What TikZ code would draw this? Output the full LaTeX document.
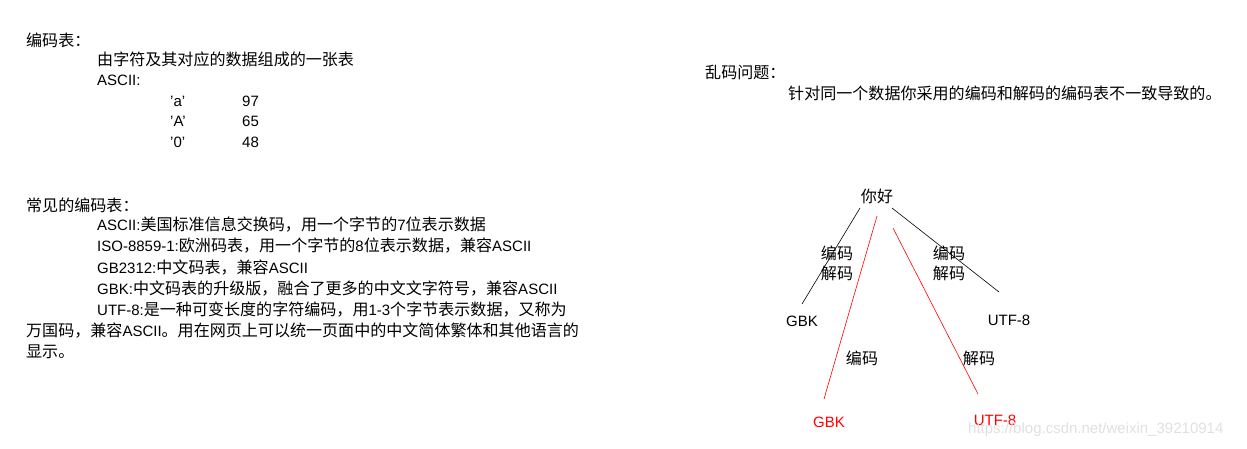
\documentclass[tikz,border=0pt]{standalone}
\usepackage{fontspec}
\setmainfont{Liberation Sans}
\newfontfamily\cjkf{Noto Sans CJK SC}[Scale=1.07]
\newcommand{\zh}[1]{{\cjkf #1}}
\begin{document}
\begin{tikzpicture}[x=1pt,y=-1pt,
  t/.style={anchor=west,inner sep=0pt,font=\fontsize{15}{16}\selectfont},
  c/.style={inner sep=0pt,font=\fontsize{15}{16}\selectfont},
  redc/.style={c,text=red},
  link/.style={black,line width=0.6pt},
  rlink/.style={red,line width=0.6pt}]
\useasboundingbox (0,0) rectangle (1247,448);
\node[t] (h1) at (26,40) {\zh{编码表：}};
\node[t] (l1) at (97,59) {\zh{由字符及其对应的数据组成的一张表}};
\node[t] (l2) at (97,80) {ASCII:};
\node[t] (a1) at (170,101) {'a'}; \node[t] (a2) at (242,101) {97};
\node[t] (b1) at (170,121) {'A'}; \node[t] (b2) at (242,121) {65};
\node[t] (c1) at (170,142) {'0'}; \node[t] (c2) at (242,142) {48};
\node[t] (h2) at (26,205) {\zh{常见的编码表：}};
\node[t] (m1) at (97,225) {ASCII:\zh{美国标准信息交换码，用一个字节的}7\zh{位表示数据}};
\node[t] (m2) at (97,246) {ISO-8859-1:\zh{欧洲码表，用一个字节的}8\zh{位表示数据，兼容}ASCII};
\node[t] (m3) at (97,268) {GB2312:\zh{中文码表，兼容}ASCII};
\node[t] (m4) at (97,289) {GBK:\zh{中文码表的升级版，融合了更多的中文文字符号，兼容}ASCII};
\node[t] (m5) at (97,310) {UTF-8:\zh{是一种可变长度的字符编码，用}1-3\zh{个字节表示数据，又称为}};
\node[t] (m6) at (26,331) {\zh{万国码，兼容}ASCII\zh{。用在网页上可以统一页面中的中文简体繁体和其他语言的}};
\node[t] (m7) at (26,352) {\zh{显示。}};
\node[t] (h3) at (705,72) {\zh{乱码问题：}};
\node[t] (r1) at (788,93) {\zh{针对同一个数据你采用的编码和解码的编码表不一致导致的。}};
\node[c] (top) at (877,196) {\zh{你好}};
\node[c] (gbk) at (802,321) {GBK};
\node[c] (utf) at (1009,320) {UTF-8};
\node[redc] (rgbk) at (829,422) {GBK};
\node[redc] (rutf) at (995,420) {UTF-8};
\coordinate (p1) at (860,208); \coordinate (p2) at (802,304);
\coordinate (q1) at (892,208); \coordinate (q2) at (999,292);
\coordinate (r1a) at (877,216); \coordinate (r1b) at (824,399);
\coordinate (r2a) at (893,228); \coordinate (r2b) at (978,394);
\draw[link] (p1) -- (p2);
\draw[link] (q1) -- (q2);
\draw[rlink] (r1a) -- (r1b);
\draw[rlink] (r2a) -- (r2b);
\node[c] (e1) at (837,253) {\zh{编码}};
\node[c] (d1) at (837,273) {\zh{解码}};
\node[c] (e2) at (949,253) {\zh{编码}};
\node[c] (d2) at (949,273) {\zh{解码}};
\node[c] (e3) at (862,358) {\zh{编码}};
\node[c] (d3) at (979,358) {\zh{解码}};
\node[t,text=black!12] (wm) at (968,430) {https://blog.csdn.net/weixin\_39210914};
\end{tikzpicture}
\end{document}
